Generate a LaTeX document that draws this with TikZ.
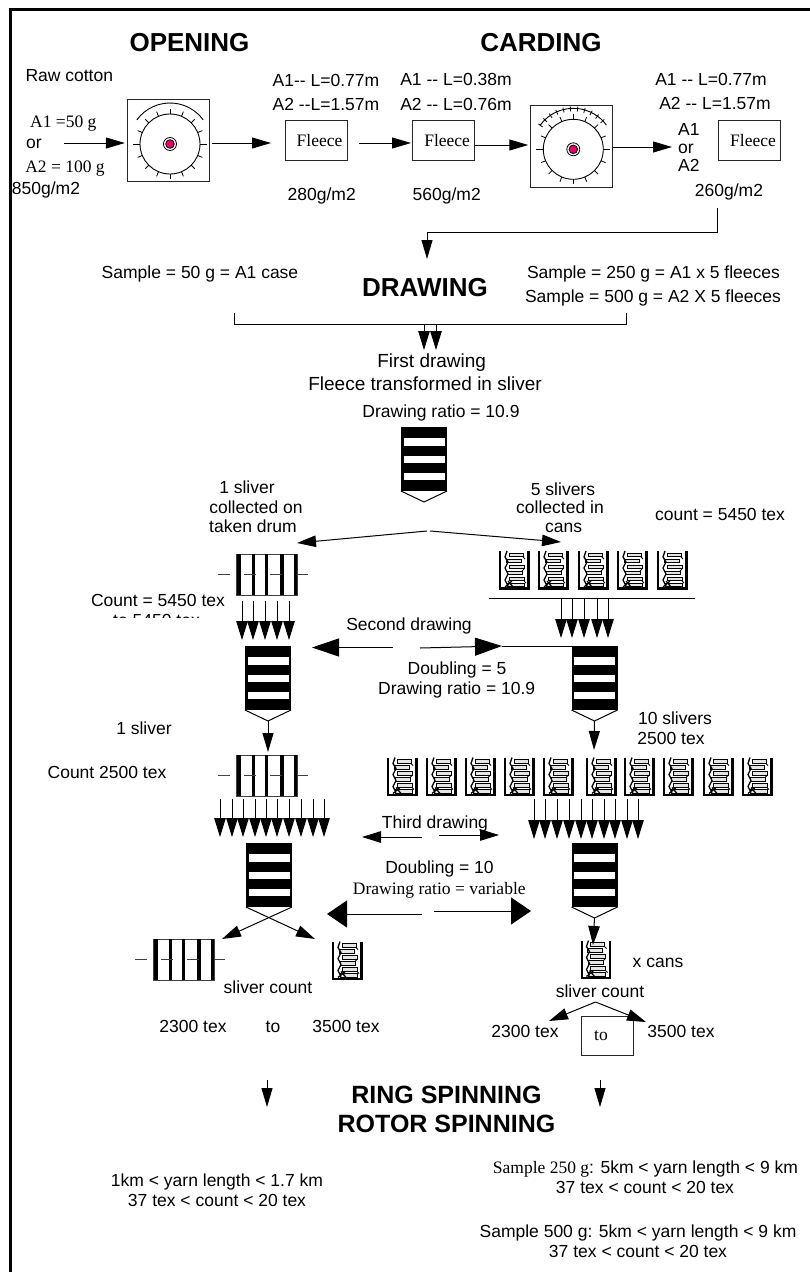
\documentclass[tikz,border=0pt]{standalone}
\usepackage{fontspec}
\usetikzlibrary{arrows.meta}
\newfontfamily\arialfont{Liberation Sans}
\newfontfamily\timesfont{Liberation Serif}
\definecolor{hubpink}{RGB}{232,0,112}
\tikzset{
    lbl/.style={font=\arialfont\fontsize{17.5}{20}\selectfont,inner sep=0pt,text height=13.5pt,text depth=1.5pt},
    lblbig/.style={lbl,font=\arialfont\fontsize{19}{22}\selectfont},
    lblser/.style={lbl,font=\timesfont\fontsize{17.5}{20}\selectfont},
    ttl/.style={font=\arialfont\bfseries\fontsize{26}{30}\selectfont,inner sep=0pt,text height=19pt,text depth=0pt},
    ttlb/.style={ttl,font=\arialfont\bfseries\fontsize{25}{30}\selectfont},
    machine/.style={draw=black!85,line width=.9pt,minimum size=82pt,inner sep=0pt},
    fleecebox/.style={draw=black!85,line width=.9pt,minimum width=62pt,minimum height=40pt,inner sep=0pt,font=\timesfont\fontsize{17.5}{20}\selectfont},
    arr/.style={line width=1pt,-{Triangle[length=19pt,width=11pt]}},
    arrs/.style={line width=1pt,-{Triangle[length=19pt,width=11.5pt]}},
    arrm/.style={line width=1pt,-{Triangle[length=27pt,width=18pt]}},
    arrl/.style={line width=1pt,-{Triangle[length=20pt,width=27pt]}},
    pics/cardroll/.style={code={
        \draw[line width=.9pt] (0,0) circle (30);
        \foreach \a in {22.5,45,...,157.5,202.5,225,...,337.5}
            \draw[line width=.8pt] (\a:30) -- (\a:35);
        \draw[line width=.9pt] (-37,0) -- (-30,0) (30,0) -- (37,0);
        \draw[line width=.8pt,fill=white] (0,0) circle (6.5);
        \draw[line width=.8pt,fill=hubpink] (0,0) circle (4.3);
    }},
    pics/coverplain/.style={code={
        \draw[line width=.9pt] (216:41) arc[start angle=216,end angle=324,radius=41];
    }},
    pics/coverteeth/.style={code={
        \draw[line width=.9pt] (216:41) arc[start angle=216,end angle=324,radius=41];
        \foreach \a in {216,226,...,324}
            \draw[line width=.8pt] (\a:38) -- (\a:43);
    }},
    pics/drawframe/.style={code={
        \fill (-23,0) rectangle (23,64);
        \foreach \t/\b in {11/19,29/36,46/53}
            \fill[white] (-20.5,\t) rectangle (20.5,\b);
        \coordinate (-tl) at (-23,0);
        \coordinate (-bl) at (-23,64);
        \coordinate (-br) at (23,64);
        \coordinate (-tip) at (0,75);
    }},
    pics/drum/.style={code={
        \draw[black!75,line width=1pt] (0,0) rectangle (61,41);
        \foreach \x in {3,17.5,30.5,46,59.5}
            \fill (\x-1.9,0) rectangle (\x+1.9,41);
        \draw[black!75,line width=1pt] (-18,20.5) -- (-6,20.5) (8,20.5) -- (20,20.5)
            (34,20.5) -- (46,20.5) (61,20.5) -- (72,20.5);
    }},
    pics/can/.style={code={
        \foreach \y/\a/\b in {2/10/24,8/7/22,14/10/25,20/8/23,26/10/25,32/8/25}
            \draw[line width=.9pt,fill=black!10] (\a,\y) rectangle (\b,\y+3.5);
        \draw[line width=1.3pt] (8,0) -- (6,6) -- (9,11) -- (6,17) -- (9,23) -- (6,29) -- (9,35)
            (6,36) -- (13,30) (9,30) -- (14,36);
        \draw[line width=.9pt] (24,6) -- (26,8) (25,18) -- (23,20) (25,30) -- (27,32);
        \draw[line width=2.2pt] (1.2,0) -- (1.2,37.5) -- (29.5,37.5) -- (29.5,0);
    }},
}
\begin{document}
\begin{tikzpicture}[x=1pt,y=-1pt]
    \useasboundingbox (0,0) rectangle (810,1272);
    \draw[line width=3pt] (10.5,1272) -- (10.5,9) -- (810,9);

    % opening and carding
    \node[ttl] (opening) at (189.5,42) {OPENING};
    \node[ttl] (carding) at (541,42) {CARDING};
    \node[lbl] (rawcotton) at (69.3,75) {Raw cotton};
    \node[lblser] (aonein) at (63.3,121) {A1 =50 g};
    \node[lbl] (orin) at (34,142) {or};
    \node[lblser] (atwoin) at (65,166) {A2 = 100 g};
    \node[lbl] (massin) at (46,188) {850g/m2};
    \node[machine] (open) at (168.3,140.3) {};
    \pic at (170,144) {cardroll};
    \pic at (170,144) {coverplain};
    \node[machine] (card) at (571.7,146) {};
    \pic at (573.3,149.3) {cardroll};
    \pic at (573.3,149.3) {coverteeth};
    \node[fleecebox] (fleecea) at (316,140.3) {\hspace*{7pt}Fleece};
    \node[fleecebox] (fleeceb) at (443.6,140.3) {\hspace*{7pt}Fleece};
    \node[fleecebox] (fleecec) at (749.5,140.3) {\hspace*{7pt}Fleece};
    \node[lbl] (lenaa) at (326,80) {A1-- L=0.77m};
    \node[lbl] (lenab) at (326,104) {A2 --L=1.57m};
    \node[lbl] (massa) at (321.7,194) {280g/m2};
    \node[lbl] (lenba) at (456,79) {A1 -- L=0.38m};
    \node[lbl] (lenbb) at (456,104) {A2 -- L=0.76m};
    \node[lbl] (massb) at (446.7,194) {560g/m2};
    \node[lbl] (lenca) at (711,79) {A1 -- L=0.77m};
    \node[lbl] (lencb) at (715,103) {A2 -- L=1.57m};
    \node[lbl,anchor=west] (outa) at (678,129) {A1};
    \node[lbl,anchor=west] (outor) at (678,147.7) {or};
    \node[lbl,anchor=west] (outb) at (678,165.7) {A2};
    \node[lbl] (massc) at (729,190) {260g/m2};

    \coordinate (rawstart) at (64,143);
    \coordinate (opentip) at (271,143);
    \coordinate (fleecetip) at (411,143);
    \coordinate (cardtip) at (672,147);
    \draw[arr] (rawstart) -- ([xshift=-2pt,yshift=-2.7pt]open.west);
    \draw[arr] ([xshift=2pt,yshift=-2.7pt]open.east) -- (opentip);
    \draw[arr] ([xshift=12pt,yshift=-2.7pt]fleecea.east) -- (fleecetip);
    \draw[arr] ([yshift=-4.7pt]fleeceb.east) -- ([xshift=-2pt,yshift=1pt]card.west);
    \draw[arr] ([yshift=-1pt]card.east) -- (cardtip);

    % drawing
    \coordinate (backa) at (717,208);
    \coordinate (backb) at (717,232.5);
    \coordinate (backc) at (427,232.5);
    \coordinate (backtip) at (427,259);
    \draw[arr] (backa) -- (backb) -- (backc) -- (backtip);
    \node[ttl] (drawing) at (425,287) {DRAWING};
    \node[lbl] (samplea) at (200,272) {Sample = 50 g = A1 case};
    \node[lbl] (sampleb) at (653.5,272) {Sample = 250 g = A1 x 5 fleeces};
    \node[lbl] (samplec) at (653,296) {Sample = 500 g = A2 X 5 fleeces};
    \coordinate (bracka) at (234,313);
    \coordinate (brackb) at (234,324);
    \coordinate (brackc) at (626,324);
    \coordinate (brackd) at (626,313);
    \draw[line width=1pt] (bracka) -- (brackb) -- (brackc) -- (brackd);
    \foreach \x in {424,436}
        \draw[arrs] (\x,324) -- (\x,350);
    \node[lblbig] (firstdraw) at (431.7,361) {First drawing};
    \node[lblbig] (fleecesliver) at (425,384) {Fleece transformed in sliver};
    \node[lbl] (ratioa) at (441,411) {Drawing ratio = 10.9};

    \pic (fa) at (424,427) {drawframe};
    \pic (fb) at (268,646) {drawframe};
    \pic (fc) at (594.5,646) {drawframe};
    \pic (fd) at (269,843) {drawframe};
    \pic (fe) at (594.5,843) {drawframe};
    \foreach \f in {fa,fb,fc,fe}
        \draw[line width=1pt] (\f-bl) -- (\f-tip) -- (\f-br);

    \node[lbl] (onesliver) at (247,487) {1 sliver};
    \node[lbl] (collon) at (256,507) {collected on};
    \node[lbl] (takendrum) at (253,526) {taken drum};
    \node[lbl] (fivesliver) at (563,489) {5 slivers};
    \node[lbl] (collin) at (560,507) {collected in};
    \node[lbl] (incans) at (563.7,526) {cans};
    \node[lbl] (countb) at (720,514) {count = 5450 tex};
    \coordinate (splitl) at (427,531);
    \coordinate (splitr) at (430,531);
    \coordinate (splitltip) at (297,543);
    \coordinate (splitrtip) at (561,542);
    \draw[arrs] (splitl) -- (splitltip);
    \draw[arrs] (splitr) -- (splitrtip);

    \pic at (236,554) {drum};
    \foreach \x in {499,538,578,617,657}
        \pic at (\x,551) {can};
    \coordinate (rowa) at (489,598);
    \coordinate (rowb) at (695,598);
    \draw[line width=1pt] (rowa) -- (rowb);
    \foreach \x in {561,572,584,597,608}
        \draw[arrs] (\x,598) -- (\x,638);
    \foreach \x in {242,253,265,277,289}
        \draw[arrs] (\x,601) -- (\x,640);
    \node[lbl] (counta) at (158,600) {Count = 5450 tex};
    \begin{scope}
        \clip (100,610) rectangle (230,617);
        \node[lbl,anchor=west] (countfrag) at (113,620) {to 5450 tex};
    \end{scope}

    % second drawing
    \node[lbl] (seconddraw) at (409,624) {Second drawing};
    \coordinate (secl) at (393,647.5);
    \coordinate (secltip) at (312,647.5);
    \coordinate (secr) at (420,648);
    \coordinate (secrtip) at (502,646);
    \draw[arrm] (secl) -- (secltip);
    \draw[arrm] (secr) -- (secrtip);
    \draw[line width=1pt] (secrtip) -- (fc-tl);
    \node[lbl] (doublea) at (457,668) {Doubling = 5};
    \node[lbl] (ratiob) at (456.7,688) {Drawing ratio = 10.9};
    \node[lbl] (tensliver) at (675,718) {10 slivers};
    \node[lbl] (texb) at (671,738) {2500 tex};
    \node[lbl] (onesliverb) at (144,728) {1 sliver};
    \node[lbl] (countc) at (107,772) {Count 2500 tex};
    \coordinate (fbdown) at (268,752);
    \coordinate (fcdown) at (594,750);
    \draw[arr] (fb-tip) -- (fbdown);
    \draw[arr] (fc-tip) -- (fcdown);

    \pic at (236,755) {drum};
    \foreach \x in {387,426,465,504,543,586,624,663,703,742}
        \pic at (\x,757.5) {can};
    \foreach \x in {220,232,243,255,266,277,289,301,313,324}
        \draw[arrs] (\x,799) -- (\x,837);
    \foreach \x in {534,545,557,569,581,592,604,615,627,638}
        \draw[arrs] (\x,799) -- (\x,839);

    % third drawing
    \node[lbl] (thirddraw) at (435,822) {Third drawing};
    \coordinate (thdl) at (422,837);
    \coordinate (thdltip) at (362,837);
    \coordinate (thdr) at (439,835);
    \coordinate (thdrtip) at (499,835);
    \draw[arrs] (thdl) -- (thdltip);
    \draw[arrs] (thdr) -- (thdrtip);
    \node[lbl] (doubleb) at (439.5,867) {Doubling = 10};
    \node[lblser] (ratioc) at (439.3,888) {Drawing ratio = variable};
    \coordinate (bigl) at (422,914);
    \coordinate (bigltip) at (327,914);
    \coordinate (bigr) at (434,911);
    \coordinate (bigrtip) at (531,911);
    \draw[arrl] (bigl) -- (bigltip);
    \draw[arrl] (bigr) -- (bigrtip);

    \coordinate (crossl) at (222,939);
    \coordinate (crossr) at (315,939);
    \draw[arrs] (fd-bl) -- (crossr);
    \draw[arrs] (fd-br) -- (crossl);
    \pic at (153,939) {drum};
    \pic at (332,941.5) {can};
    \pic at (580.5,940.5) {can};
    \coordinate (fedown) at (593,945);
    \draw[arrs] (fe-tip) -- (fedown);
    \node[lbl] (xcans) at (658,961) {x cans};
    \node[lbl] (slivera) at (268,987) {sliver count};
    \node[lbl] (sliverb) at (600,991) {sliver count};

    \node[lbl] (rangea) at (193,1026) {2300 tex};
    \node[lbl] (rangeto) at (273,1026) {to};
    \node[lbl] (rangeb) at (346,1026) {3500 tex};
    \node[draw=black!85,line width=.9pt,minimum width=51.5pt,minimum height=39pt] (tobox) at (607.3,1035.5) {};
    \node[lblser] (boxto) at (601,1034) {to};
    \node[lbl] (rangec) at (525,1031) {2300 tex};
    \node[lbl] (ranged) at (681,1031) {3500 tex};
    \coordinate (apex) at (595.5,1002);
    \coordinate (apexl) at (549,1021);
    \coordinate (apexr) at (646,1022);
    \draw[arrs] (apex) -- (apexl);
    \draw[arrs] (apex) -- (apexr);

    % spinning
    \node[ttlb] (ring) at (446.5,1094) {RING SPINNING};
    \node[ttlb] (rotor) at (446.5,1123) {ROTOR SPINNING};
    \foreach \x in {267,600}
        \draw[arr] (\x,1080) -- (\x,1107);
    \node[lbl] (yarna) at (217,1180) {1km < yarn length < 1.7 km};
    \node[lbl] (texa) at (217,1200) {37 tex < count < 20 tex};
    \node[lbl] (yarnb) at (645.5,1167) {{\timesfont Sample 250 g}: 5km < yarn length < 9 km};
    \node[lbl] (texc) at (645,1187) {37 tex < count < 20 tex};
    \node[lbl] (yarnc) at (638,1231) {Sample 500 g: 5km < yarn length < 9 km};
    \node[lbl] (texd) at (638,1251) {37 tex < count < 20 tex};
\end{tikzpicture}
\end{document}
